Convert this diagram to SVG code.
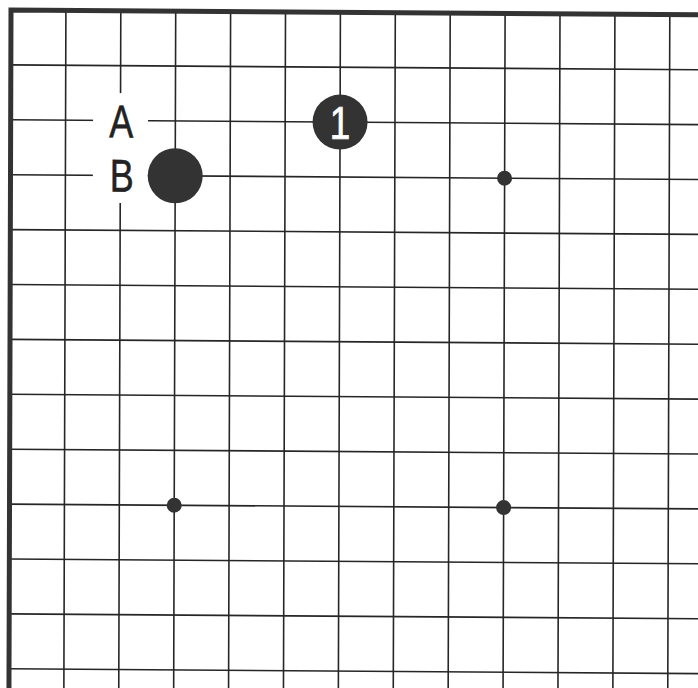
<svg xmlns="http://www.w3.org/2000/svg" width="698" height="688" viewBox="0 0 698 688">
<style>
.g{stroke:#262626;stroke-width:1.6;fill:none}
.border{stroke:#333;stroke-width:5;fill:none;stroke-linecap:square}
.stone{fill:#333}
.star{fill:#333}
.lbl{font-family:"Liberation Sans",Arial,sans-serif;font-size:46px;fill:#222;stroke:#222;stroke-width:0.6;text-anchor:middle}
.num{font-family:"Liberation Sans",Arial,sans-serif;font-size:46px;fill:#fff;stroke:#fff;stroke-width:0.8;text-anchor:middle}
</style>
<rect width="698" height="688" fill="#fff"/>
<g transform="matrix(1,0.007,-0.003,1,11,10)">
<g id="grid" class="g">
<path d="M54.9 0V720M109.8 0V720M164.7 0V720M219.6 0V720M274.5 0V720M329.4 0V720M384.3 0V720M439.2 0V720M494.1 0V720M549 0V720M603.9 0V720M658.8 0V720"/>
<path d="M0 54.9H720M0 109.8H720M0 164.7H720M0 219.6H720M0 274.5H720M0 329.4H720M0 384.3H720M0 439.2H720M0 494.1H720M0 549H720M0 603.9H720M0 658.8H720"/>
</g>
<path id="border" class="border" d="M0 720V0H720"/>
<g id="stars">
<circle class="star" cx="164.7" cy="494.1" r="7.5"/>
<circle class="star" cx="494.1" cy="494.1" r="7.5"/>
<circle class="star" cx="494.1" cy="164.7" r="7.5"/>
</g>
<rect x="82.4" y="82.4" width="54.9" height="109.8" fill="#fff"/>
<g id="label-A"><text class="lbl" transform="translate(110.7,126.5) scale(0.78,1)">A</text></g>
<g id="label-B"><text class="lbl" transform="translate(111.2,180.9) scale(0.78,1)">B</text></g>
<g id="stone-B"><circle class="stone" cx="164.7" cy="164.7" r="27.5"/></g>
<g id="stone-1"><circle class="stone" cx="329.4" cy="109.8" r="27.5"/><text class="num" transform="translate(329.4,126.6) scale(0.8,1)">1</text></g>
</g>
</svg>
